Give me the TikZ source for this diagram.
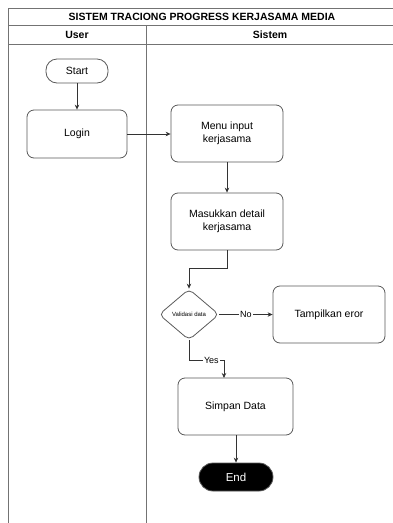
\documentclass[tikz,border=0pt]{standalone}
\usepackage{fontspec}
\setmainfont{Liberation Sans}
\usetikzlibrary{shapes.geometric,arrows.meta,calc}
\begin{document}
\begin{tikzpicture}[x=1pt,y=-1pt,
  lane/.style={draw=black!55, line width=0.9pt},
  box/.style={draw=black!65, line width=0.8pt, rounded corners=7pt, align=center, font=\fontsize{10.5}{13.5}\selectfont, inner sep=0pt},
  term/.style={draw=black!65, line width=0.8pt, rounded corners=11pt, font=\fontsize{10.5}{12}\selectfont, inner sep=0pt},
  arr/.style={draw=black!80, line width=0.7pt, -{Stealth[length=5pt,width=4.5pt]}},
  lbl/.style={fill=white, inner sep=1pt, font=\fontsize{9}{10}\selectfont},
  hdr/.style={font=\bfseries\fontsize{10.5}{12}\selectfont}
]
\useasboundingbox (0,0) rectangle (393,523);
% swimlane table
\draw[lane] (8,8) -- (393,8);
\draw[lane] (8,25) -- (393,25);
\draw[lane] (8,44) -- (393,44);
\draw[lane] (8,8) -- (8,523);
\draw[lane] (146,25) -- (146,523);
\node[hdr] (title) at (202,16.5) {SISTEM TRACIONG PROGRESS KERJASAMA MEDIA};
\node[hdr] (huser) at (77,34.5) {User};
\node[hdr] (hsis) at (270,34.5) {Sistem};
% nodes
\node[term, minimum width=62pt, minimum height=24pt] (start) at (77,71) {Start};
\node[box, minimum width=100pt, minimum height=48pt] (login) at (77,134) {Login};
\node[box, minimum width=112pt, minimum height=57pt] (menu) at (227,133.5) {Menu input\\kerjasama};
\node[box, minimum width=112pt, minimum height=57pt] (detail) at (227,221.5) {Masukkan detail\\kerjasama};
\node[diamond, draw=black!65, line width=0.8pt, rounded corners=5pt, minimum width=60pt, minimum height=51pt, inner sep=0pt, aspect=1.2, font=\fontsize{6}{7}\selectfont] (dia) at (189,314.5) {Validasi data};
\node[box, minimum width=112pt, minimum height=57pt] (err) at (329,314.5) {Tampilkan eror};
\node[box, minimum width=115pt, minimum height=57pt] (simpan) at (235.5,406.5) {Simpan Data};
\node[term, fill=black, text=white, minimum width=74pt, minimum height=28pt, rounded corners=14pt, font=\fontsize{11.5}{13}\selectfont] (end) at (236,477) {End};
\coordinate (yin) at (224,378);
% connectors
\draw[arr] (start) -- (login);
\draw[arr] (login.east) -- (login.east -| menu.west);
\draw[arr] (menu) -- (detail);
\draw[arr] (detail.south) -- ++(0,18) -| (dia.north);
\draw[arr] (dia.east) -- node[lbl]{No} (err.west);
\draw[arr] (dia.south) -- ++(0,20) -| node[lbl, pos=0.32]{Yes} (yin);
\draw[arr] (simpan.south -| end.north) -- (end.north);
\end{tikzpicture}
\end{document}
